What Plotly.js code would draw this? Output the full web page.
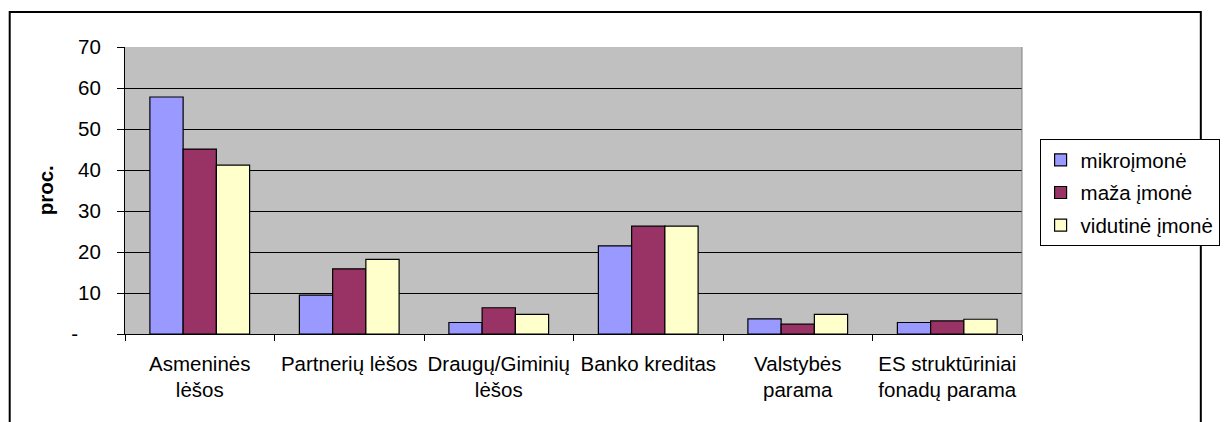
<!DOCTYPE html>
<html>
<head>
<meta charset="utf-8">
<script src="https://cdn.plot.ly/plotly-3.0.1.min.js"></script>
<style>html,body{margin:0;padding:0;background:#fff;}#chart{width:1232px;height:422px;}</style>
</head>
<body>
<div id="chart"></div>
<script>
const categories = ["Asmeninės<br>lėšos", "Partnerių lėšos", "Draugų/Giminių<br>lėšos", "Banko kreditas", "Valstybės<br>parama", "ES struktūriniai<br>fonadų parama"];
const seriesNames = ["mikroįmonė", "maža įmonė", "vidutinė įmonė"];
const mikro = [57.8, 9.5, 2.8, 21.5, 3.7, 2.8];
const maza = [45.1, 15.9, 6.4, 26.3, 2.4, 3.2];
const vidutine = [41.2, 18.2, 4.8, 26.3, 4.8, 3.6];
const yTickVals = [0, 10, 20, 30, 40, 50, 60, 70];
const yTickText = ["-\u00a0\u00a0\u00a0\u00a0", "10", "20", "30", "40", "50", "60", "70"];
const colors = ["#9999FF", "#993366", "#FFFFCC"];

const seriesValues = [mikro, maza, vidutine];
const traces = seriesValues.map((vals, i) => ({
  type: "bar",
  name: seriesNames[i],
  x: categories,
  y: vals,
  legendgroup: "g" + i,
  marker: {color: colors[i], line: {color: "#000", width: 1.2}},
  hoverinfo: "x+y+name"
}));

const W = 1232, H = 422;
const L = 125, R = 189, T = 47, B = 88;
const pw = W - L - R, ph = H - T - B;
const px = v => (v - L) / pw;
const py = v => (H - B - v) / ph;

const layout = {
  width: W, height: H,
  margin: {l: L, r: R, t: T, b: B, pad: 0},
  paper_bgcolor: "#fff",
  plot_bgcolor: "#C0C0C0",
  font: {family: "Liberation Sans, Arial, sans-serif", size: 20.5, color: "#000"},
  barmode: "group",
  bargap: 0.333,
  bargroupgap: 0,
  showlegend: true,
  legend: {
    x: px(1061), y: py(139), xanchor: "left", yanchor: "top",
    bgcolor: "#fff", bordercolor: "#000", borderwidth: 1,
    traceorder: "grouped", tracegroupgap: 3,
    font: {size: 20.5}
  },
  xaxis: {
    type: "category",
    tickson: "boundaries",
    ticks: "outside", ticklen: 6, tickcolor: "#000", tickwidth: 1,
    showline: true, linecolor: "#000", linewidth: 1,
    showgrid: false, zeroline: false,
    tickangle: 0,
    tickfont: {size: 20.5},
    ticklabelstandoff: 11,
    fixedrange: true
  },
  yaxis: {
    range: [0, 70],
    tickvals: yTickVals, ticktext: yTickText,
    ticks: "outside", ticklen: 7, tickcolor: "#000", tickwidth: 1,
    showline: true, linecolor: "#000", linewidth: 1,
    showgrid: true, gridcolor: "#000", gridwidth: 1,
    zeroline: true, zerolinecolor: "#000",
    tickfont: {size: 20.5},
    ticklabelstandoff: 12,
    fixedrange: true
  },
  annotations: [{
    text: "<b>proc.</b>", textangle: -90,
    xref: "paper", yref: "paper",
    x: px(44), y: 0.5, xanchor: "center", yanchor: "middle",
    showarrow: false, font: {size: 20.5}
  }],
  shapes: [
    {type: "line", xref: "paper", yref: "paper", x0: 1, x1: 1, y0: 0, y1: 1,
     line: {color: "#808080", width: 1}, layer: "above"},
    {type: "rect", xref: "paper", yref: "paper",
     x0: px(7), x1: px(1226), y0: py(440), y1: py(12),
     line: {color: "#000", width: 2}, fillcolor: "rgba(0,0,0,0)", layer: "below"}
  ]
};

Plotly.newPlot("chart", traces, layout, {displayModeBar: false, staticPlot: true});
</script>
</body>
</html>
